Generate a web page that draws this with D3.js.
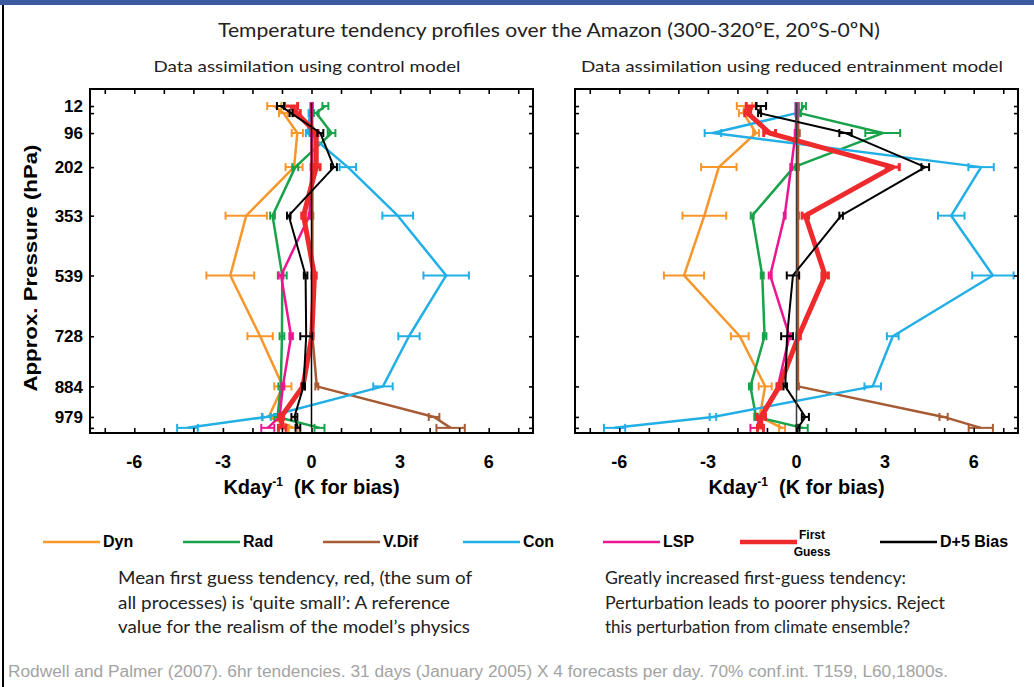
<!DOCTYPE html>
<html>
<head>
<meta charset="utf-8">
<script src="https://cdn.jsdelivr.net/npm/d3@7"></script>
<style>
  body { margin: 0; background: #fff; }
  svg { display: block; }
</style>
</head>
<body>
<svg id="chart" width="1034" height="687"></svg>
<script>
// Model levels (hPa) and the subset that carries a label
const levels = [12, 34, 96, 202, 353, 539, 728, 884, 979, 1013];
const levelLabels = [12, 96, 202, 353, 539, 728, 884, 979];
const xTickLabels = [-6, -3, 0, 3, 6];
const xMinorTicks = [-7, -6, -5, -4, -3, -2, -1, 0, 1, 2, 3, 4, 5, 6, 7];

const seriesNames = ["Dyn", "Rad", "V.Dif", "Con", "LSP", "First Guess", "D+5 Bias"];
const seriesColors = ["#F7962B", "#17A24B", "#A65B34", "#22AFE6", "#EC1690", "#EE2A2D", "#000000"];

// Control model tendencies (K/day) and 70% confidence half-widths
const ctlDyn = [-1.26, -0.95, -0.48, -0.59, -2.21, -2.75, -1.74, -0.97, -1.45, -0.62];
const ctlDynErr = [0.24, 0.15, 0.19, 0.29, 0.70, 0.81, 0.43, 0.29, 0.20, 0.15];
const ctlRad = [0.47, 0.16, 0.68, -0.55, -1.32, -0.99, -1.00, -1.04, -1.15, 0.27];
const ctlRadErr = [0.10, 0.08, 0.13, 0.10, 0.08, 0.15, 0.08, 0.08, 0.10, 0.17];
const ctlVdif = [0.02, 0.02, 0.03, 0.03, 0.03, 0.03, 0.03, 0.18, 4.15, 4.71];
const ctlVdifErr = [0.03, 0.03, 0.03, 0.03, 0.03, 0.03, 0.03, 0.05, 0.18, 0.48];
const ctlCon = [0.00, -0.05, -0.13, 1.23, 2.92, 4.56, 3.30, 2.42, -1.53, -4.20];
const ctlConErr = [0.03, 0.05, 0.06, 0.28, 0.52, 0.77, 0.36, 0.33, 0.15, 0.35];
const ctlLsp = [0.00, 0.00, 0.00, 0.00, -0.07, -1.03, -0.69, -0.97, -1.08, -1.48];
const ctlLspErr = [0.03, 0.03, 0.03, 0.03, 0.03, 0.08, 0.06, 0.05, 0.05, 0.22];
const ctlFg = [-0.69, -0.50, 0.16, 0.16, -0.27, 0.10, 0.01, -0.29, -1.03, -0.99];
const ctlFgErr = [0.22, 0.12, 0.06, 0.13, 0.06, 0.06, 0.04, 0.05, 0.08, 0.13];
const ctlBias = [-1.05, -0.69, 0.30, 0.76, -0.77, -0.20, -0.18, -0.27, -0.58, -0.46];
const ctlBiasErr = [0.12, 0.05, 0.10, 0.10, 0.06, 0.06, 0.20, 0.05, 0.10, 0.08];

// Reduced entrainment model tendencies (K/day) and half-widths
const redDyn = [-1.76, -1.80, -1.37, -2.63, -3.12, -3.81, -1.92, -1.06, -1.25, -0.49];
const redDynErr = [0.26, 0.15, 0.10, 0.60, 0.74, 0.68, 0.30, 0.22, 0.10, 0.10];
const redRad = [0.25, 0.10, 2.92, -0.09, -1.50, -1.16, -1.08, -1.56, -1.37, 0.21];
const redRadErr = [0.07, 0.05, 0.59, 0.05, 0.05, 0.05, 0.06, 0.05, 0.06, 0.17];
const redVdif = [0.05, 0.05, 0.06, 0.05, 0.05, 0.05, 0.05, 0.05, 4.98, 6.24];
const redVdifErr = [0.03, 0.03, 0.05, 0.03, 0.03, 0.03, 0.03, 0.03, 0.14, 0.41];
const redCon = [0.00, 0.00, -2.83, 6.25, 5.24, 6.65, 3.26, 2.58, -2.83, -6.16];
const redConErr = [0.03, 0.03, 0.28, 0.43, 0.45, 0.70, 0.20, 0.28, 0.11, 0.36];
const redLsp = [0.00, 0.00, -0.03, -0.18, -0.40, -0.89, -0.24, -0.63, -1.25, -1.34];
const redLspErr = [0.03, 0.03, 0.03, 0.03, 0.03, 0.05, 0.05, 0.05, 0.08, 0.22];
const redFg = [-1.53, -1.65, -0.91, 3.26, 0.30, 0.97, 0.07, -0.58, -1.20, -1.22];
const redFgErr = [0.17, 0.10, 0.20, 0.22, 0.11, 0.11, 0.06, 0.06, 0.15, 0.10];
const redBias = [-1.20, -1.25, 1.66, 4.36, 1.51, -0.12, -0.32, -0.38, 0.30, 0.05];
const redBiasErr = [0.17, 0.05, 0.21, 0.13, 0.06, 0.21, 0.20, 0.06, 0.12, 0.05];

const svg = d3.select("#chart");
const boldFont = "'Liberation Sans Narrow', 'Arial Narrow', 'Liberation Sans', Arial, sans-serif";
const textFont = "Lato, 'Open Sans', sans-serif";

// Slide frame: blue strip on top, black rule on the left
svg.append("rect").attr("x", 0).attr("y", 0).attr("width", 1034).attr("height", 5).attr("fill", "#3A5C9E");
svg.append("line").attr("x1", 3).attr("x2", 3).attr("y1", 5).attr("y2", 687)
  .attr("stroke", "#000").attr("stroke-width", 2);

// Text squeezed or stretched to a set width
function fitText(x, y, str, size, len, opts = {}) {
  return svg.append("text")
    .attr("x", x).attr("y", y)
    .attr("text-anchor", opts.anchor || "middle")
    .attr("font-family", opts.family || textFont)
    .attr("font-size", size)
    .attr("font-weight", opts.weight || "normal")
    .attr("fill", opts.fill || "#222")
    .attr("textLength", len)
    .attr("lengthAdjust", "spacingAndGlyphs")
    .text(str);
}
fitText(549, 37, "Temperature tendency profiles over the Amazon (300-320ºE, 20ºS-0ºN)", 20, 662);

const y = d3.scaleLinear().domain([-41, 1029]).range([89, 433]);

const panels = [
  {
    heading: "Data assimilation using control model", headX: 307, headLen: 307,
    x0: 90, x1: 533,
    values: [ctlDyn, ctlRad, ctlVdif, ctlCon, ctlLsp, ctlFg, ctlBias],
    errors: [ctlDynErr, ctlRadErr, ctlVdifErr, ctlConErr, ctlLspErr, ctlFgErr, ctlBiasErr]
  },
  {
    heading: "Data assimilation using reduced entrainment model", headX: 792, headLen: 422,
    x0: 575, x1: 1018,
    values: [redDyn, redRad, redVdif, redCon, redLsp, redFg, redBias],
    errors: [redDynErr, redRadErr, redVdifErr, redConErr, redLspErr, redFgErr, redBiasErr]
  }
];

const widths = [2.5, 2.5, 2.5, 2.5, 2.5, 5, 2];
const barWidths = [2, 2, 2, 2, 2, 3, 2];

panels.forEach((p, pi) => {
  fitText(p.headX, 72, p.heading, 16, p.headLen);

  const x = d3.scaleLinear().domain([-7.5, 7.5]).range([p.x0, p.x1]);
  const g = svg.append("g");

  const line = d3.line().x(d => x(d.v)).y(d => y(d.p));

  p.values.forEach((vals, si) => {
    const pts = levels.map((lev, i) => ({ p: lev, v: vals[i], e: p.errors[si][i] }));
    const sg = g.append("g").attr("stroke", seriesColors[si]).attr("fill", "none");
    sg.append("path").attr("d", line(pts))
      .attr("stroke-width", widths[si]).attr("stroke-linejoin", "round");
    const bars = sg.selectAll("g.eb").data(pts).join("g").attr("class", "eb")
      .attr("stroke-width", barWidths[si]);
    bars.append("line")
      .attr("x1", d => x(d.v - d.e)).attr("x2", d => x(d.v + d.e))
      .attr("y1", d => y(d.p)).attr("y2", d => y(d.p));
    bars.append("line")
      .attr("x1", d => x(d.v - d.e)).attr("x2", d => x(d.v - d.e))
      .attr("y1", d => y(d.p) - 4).attr("y2", d => y(d.p) + 4);
    bars.append("line")
      .attr("x1", d => x(d.v + d.e)).attr("x2", d => x(d.v + d.e))
      .attr("y1", d => y(d.p) - 4).attr("y2", d => y(d.p) + 4);
  });

  // Zero reference, drawn over the profiles
  g.append("line")
    .attr("x1", x(0)).attr("x2", x(0))
    .attr("y1", y(levels[0]) - 3).attr("y2", y(levels[levels.length - 1]))
    .attr("stroke", pi === 0 ? "#000" : "#3a3a3a").attr("stroke-width", 1.5);

  // Axes: inward ticks on all four sides
  const top = 89, bottom = 433;
  const axT = g.append("g").attr("transform", `translate(0,${top})`)
    .call(d3.axisBottom(x).tickValues(xMinorTicks).tickSize(5).tickFormat(""));
  const axB = g.append("g").attr("transform", `translate(0,${bottom})`)
    .call(d3.axisTop(x).tickValues(xMinorTicks).tickSize(5).tickFormat(""));
  const axL = g.append("g").attr("transform", `translate(${p.x0},0)`)
    .call(d3.axisRight(y).tickValues(levels).tickSize(4).tickFormat(""));
  const axR = g.append("g").attr("transform", `translate(${p.x1},0)`)
    .call(d3.axisLeft(y).tickValues(levels).tickSize(4).tickFormat(""));
  [axT, axB, axL, axR].forEach(a => {
    a.select(".domain").remove();
    a.selectAll(".tick line").attr("stroke", "#000").attr("stroke-width", 1.6);
  });
  g.append("rect").attr("x", p.x0).attr("y", top)
    .attr("width", p.x1 - p.x0).attr("height", bottom - top)
    .attr("fill", "none").attr("stroke", "#000").attr("stroke-width", 2);

  // Tick labels along x
  g.selectAll("text.xl").data(xTickLabels).join("text")
    .attr("x", d => x(d)).attr("y", 468)
    .attr("text-anchor", "middle")
    .attr("font-family", boldFont).attr("font-weight", "bold").attr("font-size", 18)
    .text(d => d);

  // X axis title with superscript
  const xt = g.append("text")
    .attr("x", x(0)).attr("y", 494).attr("text-anchor", "middle")
    .attr("font-family", boldFont).attr("font-weight", "bold").attr("font-size", 20);
  xt.append("tspan").text("Kday");
  xt.append("tspan").attr("dy", -8).attr("font-size", 12).text("-1");
  xt.append("tspan").attr("dy", 8).text("\u00a0 (K for bias)");

  if (pi === 0) {
    g.selectAll("text.yl").data(levelLabels).join("text")
      .attr("x", 83).attr("y", d => y(d)).attr("dy", "0.36em")
      .attr("text-anchor", "end")
      .attr("font-family", boldFont).attr("font-weight", "bold").attr("font-size", 17)
      .text(d => d);
    g.append("text")
      .attr("transform", "translate(37,268) rotate(-90)")
      .attr("text-anchor", "middle")
      .attr("font-family", "'Liberation Sans', Arial, sans-serif").attr("font-weight", "bold")
      .attr("font-size", 19)
      .attr("textLength", 247).attr("lengthAdjust", "spacingAndGlyphs")
      .text("Approx. Pressure (hPa)");
  }
});

// Legend
const legendX = [43, 183, 323, 463, 603, 740, 880];
seriesNames.forEach((name, i) => {
  const lx = legendX[i];
  svg.append("line").attr("x1", lx).attr("x2", lx + 57).attr("y1", 542).attr("y2", 542)
    .attr("stroke", seriesColors[i]).attr("stroke-width", i === 5 ? 4.5 : 2.5);
  if (name === "First Guess") {
    const t = svg.append("text").attr("font-family", boldFont).attr("font-weight", "bold")
      .attr("font-size", 12).attr("text-anchor", "middle");
    t.append("tspan").attr("x", lx + 72).attr("y", 539).text("First");
    t.append("tspan").attr("x", lx + 72).attr("y", 556).text("Guess");
  } else {
    svg.append("text").attr("x", lx + 60).attr("y", 547)
      .attr("font-family", boldFont).attr("font-weight", "bold").attr("font-size", 16)
      .text(name);
  }
});

// Notes under each panel
const notesLeft = [
  "Mean first guess tendency, red, (the sum of",
  "all processes) is \u2018quite small\u2019: A reference",
  "value for the realism of the model\u2019s physics"
];
const notesLeftLen = [354, 332, 352];
const notesRight = [
  "Greatly increased first-guess tendency:",
  "Perturbation leads to poorer physics. Reject",
  "this perturbation from climate ensemble?"
];
const notesRightLen = [301, 340, 305];
notesLeft.forEach((s, i) => fitText(118, 584 + i * 24.5, s, 17, notesLeftLen[i], { anchor: "start" }));
notesRight.forEach((s, i) => fitText(605, 584 + i * 24.5, s, 17, notesRightLen[i], { anchor: "start" }));

fitText(8, 677,
  "Rodwell and Palmer (2007). 6hr tendencies. 31 days (January 2005) X 4 forecasts per day. 70% conf.int. T159, L60,1800s.",
  16, 940, { anchor: "start", family: "'Liberation Sans', Arial, sans-serif", fill: "#A3A3A3" });
</script>
</body>
</html>
